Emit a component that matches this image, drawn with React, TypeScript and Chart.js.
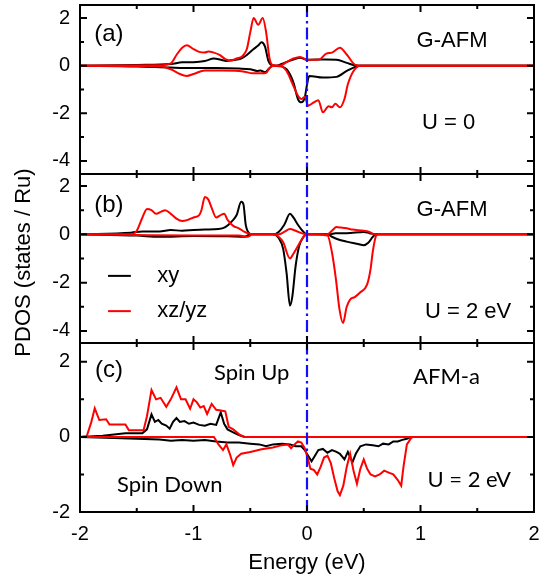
import React, { useEffect, useRef } from "react";
import { Chart, registerables } from "chart.js";

Chart.register(...registerables);

// ---------------- axis ticks ----------------
const energyTicks = [-2, -1, 0, 1, 2];
const energyMinorTicks = [-1.5, -0.5, 0.5, 1.5];
const pdosTicksAB = [-4, -2, 0, 2];
const pdosMinorAB = [-3, -1, 1];
const pdosTicksC = [-2, 0, 2];
const pdosMinorC = [-1, 1];

// ---------------- panel (a): G-AFM, U = 0 ----------------
const aXyUpE = [-2, -1.5, -1.2, -1.1, -1.0, -0.9, -0.82, -0.76, -0.71, -0.65, -0.58, -0.53, -0.47, -0.43, -0.4, -0.37, -0.34, -0.31, -0.27, -0.2, -0.12, -0.06, 0, 0.08, 0.17, 0.26, 0.35, 0.42, 0.47, 2];
const aXyUpV = [0, 0.03, 0.07, 0.14, 0.15, 0.2, 0.3, 0.25, 0.2, 0.24, 0.3, 0.45, 0.7, 0.85, 0.98, 0.8, 0.2, 0.02, 0, 0.12, 0.26, 0.33, 0.25, 0.26, 0.26, 0.25, 0.12, 0.02, 0, 0];
const aXyDnE = [-2, -1.5, -1.2, -1.0, -0.8, -0.6, -0.5, -0.44, -0.41, -0.37, -0.33, -0.3, -0.24, -0.18, -0.12, -0.08, -0.05, -0.02, 0, 0.02, 0.14, 0.26, 0.35, 0.41, 0.47, 2];
const aXyDnV = [0, -0.03, -0.08, -0.1, -0.1, -0.12, -0.15, -0.22, -0.2, -0.28, -0.1, 0, -0.02, -0.15, -0.7, -1.4, -1.54, -1.35, -0.8, -0.43, -0.5, -0.47, -0.22, -0.08, 0, 0];
const aXzUpE = [-2, -1.3, -1.2, -1.15, -1.1, -1.06, -1.0, -0.95, -0.9, -0.87, -0.82, -0.77, -0.72, -0.67, -0.62, -0.57, -0.53, -0.5, -0.47, -0.43, -0.39, -0.36, -0.33, -0.3, -0.24, -0.18, -0.12, -0.06, 0, 0.06, 0.11, 0.17, 0.22, 0.29, 0.35, 0.42, 0.47, 2];
const aXzUpV = [0, 0.02, 0.1, 0.45, 0.75, 0.86, 0.7, 0.58, 0.55, 0.6, 0.55, 0.45, 0.28, 0.22, 0.3, 0.4, 0.7, 1.4, 2.0, 1.72, 2.0, 1.4, 0.3, 0.02, 0, 0.15, 0.3, 0.37, 0.24, 0.25, 0.26, 0.51, 0.55, 0.75, 0.47, 0.05, 0, 0];
const aXzDnE = [-2, -1.3, -1.2, -1.12, -1.06, -1.0, -0.9, -0.75, -0.6, -0.55, -0.48, -0.4, -0.36, -0.33, -0.3, -0.24, -0.18, -0.12, -0.08, -0.05, -0.02, 0.01, 0.06, 0.1, 0.14, 0.19, 0.22, 0.25, 0.29, 0.33, 0.36, 0.41, 0.47, 2];
const aXzDnV = [0, -0.02, -0.15, -0.35, -0.43, -0.35, -0.2, -0.2, -0.22, -0.25, -0.32, -0.32, -0.3, -0.1, -0.01, 0, -0.22, -0.85, -1.26, -1.4, -1.3, -1.68, -1.54, -1.45, -1.96, -1.7, -1.75, -1.6, -1.75, -1.4, -0.78, -0.22, 0, 0];

// ---------------- panel (b): G-AFM, U = 2 eV ----------------
const bXyUpE = [-2, -1.55, -1.45, -1.3, -1.2, -1.1, -1.0, -0.9, -0.78, -0.72, -0.66, -0.62, -0.58, -0.56, -0.54, -0.51, -0.48, -0.3, -0.25, -0.2, -0.15, -0.12, -0.08, -0.04, 0, 0.2, 0.25, 0.35, 0.5, 0.55, 0.6, 2];
const bXyUpV = [0, 0.07, 0.12, 0.12, 0.18, 0.15, 0.18, 0.2, 0.22, 0.3, 0.55, 0.8, 1.35, 1.25, 0.4, 0.05, 0, 0, 0.1, 0.4, 0.85, 0.7, 0.4, 0.15, 0, 0, 0.05, 0.05, 0.1, 0.05, 0, 0];
const bXyDnE = [-2, -1.5, -1.3, -1.0, -0.7, -0.55, -0.5, -0.3, -0.25, -0.21, -0.18, -0.15, -0.13, -0.1, -0.07, -0.03, 0, 0.18, 0.22, 0.27, 0.35, 0.45, 0.5, 0.54, 0.58, 0.61, 2];
const bXyDnV = [0, -0.05, -0.1, -0.07, -0.08, -0.1, 0, 0, -0.15, -0.6, -1.6, -2.95, -2.6, -1.3, -0.5, -0.1, 0, 0, -0.1, -0.2, -0.3, -0.4, -0.45, -0.35, -0.1, 0, 0];
const bXzUpE = [-2, -1.55, -1.5, -1.45, -1.41, -1.37, -1.33, -1.28, -1.25, -1.2, -1.15, -1.1, -1.05, -1.0, -0.95, -0.93, -0.9, -0.87, -0.84, -0.8, -0.76, -0.73, -0.7, -0.65, -0.6, -0.55, -0.5, -0.45, -0.25, -0.2, -0.15, -0.1, -0.05, 0, 0.18, 0.22, 0.26, 0.3, 0.35, 0.4, 0.5, 0.55, 0.6, 2];
const bXzUpV = [0, 0, 0.15, 0.7, 1.05, 1.0, 0.85, 0.95, 1.0, 0.85, 0.65, 0.55, 0.6, 0.7, 0.8, 1.0, 1.55, 1.45, 1.1, 0.7, 0.8, 0.85, 0.6, 0.35, 0.25, 0.1, 0.02, 0, 0, 0.1, 0.22, 0.15, 0.05, 0, 0, 0.15, 0.3, 0.28, 0.25, 0.2, 0.15, 0.1, 0, 0];
const bXzDnE = [-2, -1.5, -1.0, -0.6, -0.52, -0.48, -0.3, -0.25, -0.21, -0.15, -0.12, -0.07, -0.03, 0, 0.18, 0.22, 0.255, 0.286, 0.317, 0.35, 0.38, 0.42, 0.47, 0.53, 0.56, 0.58, 0.61, 0.63, 2];
const bXzDnV = [0, -0.03, -0.05, -0.05, -0.1, 0, 0, -0.1, -0.33, -1.0, -0.8, -0.4, -0.1, 0, -0.05, -0.75, -1.86, -3.1, -3.67, -3.0, -2.7, -2.6, -2.4, -2.07, -1.44, -0.7, -0.05, 0, 0];

// ---------------- panel (c): AFM-a, U = 2 eV ----------------
const cXyUpE = [-2, -1.8, -1.6, -1.45, -1.41, -1.37, -1.34, -1.31, -1.28, -1.24, -1.21, -1.18, -1.15, -1.12, -1.08, -1.04, -1.0, -0.95, -0.9, -0.85, -0.8, -0.76, -0.73, -0.7, -0.65, -0.6, -0.55, 2];
const cXyUpV = [0, 0.03, 0.1, 0.1, 0.2, 0.6, 0.4, 0.45, 0.35, 0.3, 0.22, 0.4, 0.5, 0.4, 0.42, 0.35, 0.38, 0.32, 0.3, 0.35, 0.32, 0.65, 0.35, 0.2, 0.12, 0.05, 0, 0];
const cXyDnE = [-2, -1.7, -1.5, -1.3, -1.2, -1.1, -1.0, -0.9, -0.8, -0.7, -0.6, -0.5, -0.42, -0.36, -0.3, -0.22, -0.15, -0.1, -0.05, -0.02, 0.01, 0.04, 0.07, 0.1, 0.14, 0.18, 0.22, 0.26, 0.29, 0.33, 0.36, 0.4, 0.43, 0.47, 0.52, 0.58, 0.63, 0.67, 0.72, 0.76, 0.8, 0.84, 0.88, 0.92, 2];
const cXyDnV = [0, -0.03, -0.05, -0.07, -0.1, -0.08, -0.1, -0.08, -0.12, -0.15, -0.15, -0.18, -0.2, -0.25, -0.2, -0.18, -0.2, -0.25, -0.25, -0.35, -0.5, -0.65, -0.5, -0.35, -0.32, -0.42, -0.35, -0.4, -0.45, -0.6, -0.4, -0.68, -0.45, -0.25, -0.2, -0.22, -0.25, -0.18, -0.2, -0.12, -0.12, -0.08, -0.05, 0, 0];
const cXzUpE = [-2, -1.94, -1.9, -1.87, -1.83, -1.77, -1.74, -1.6, -1.57, -1.44, -1.41, -1.37, -1.33, -1.29, -1.24, -1.2, -1.15, -1.11, -1.07, -1.03, -1.0, -0.97, -0.94, -0.91, -0.88, -0.84, -0.8, -0.76, -0.72, -0.69, -0.65, -0.59, -0.55, 2];
const cXzUpV = [0, 0.02, 0.4, 0.76, 0.45, 0.47, 0.33, 0.33, 0.18, 0.18, 0.55, 1.25, 1.0, 1.04, 0.8, 1.0, 1.32, 1.0, 1.0, 0.75, 1.0, 0.92, 0.78, 0.82, 0.61, 0.88, 0.72, 0.7, 0.68, 0.27, 0.2, 0.05, 0, 0];
const cXzDnE = [-2, -0.82, -0.78, -0.74, -0.71, -0.68, -0.65, -0.62, -0.58, -0.5, -0.4, -0.3, -0.22, -0.17, -0.14, -0.11, -0.08, -0.05, -0.02, 0.01, 0.03, 0.06, 0.09, 0.12, 0.15, 0.18, 0.21, 0.24, 0.27, 0.29, 0.32, 0.35, 0.38, 0.41, 0.44, 0.47, 0.5, 0.53, 0.56, 0.6, 0.64, 0.68, 0.72, 0.76, 0.8, 0.83, 0.85, 0.88, 0.92, 0.95, 2];
const cXzDnV = [0, 0, -0.2, -0.35, -0.2, -0.45, -0.75, -0.55, -0.45, -0.4, -0.33, -0.28, -0.22, -0.2, -0.3, -0.2, -0.12, -0.15, -0.3, -0.6, -0.85, -0.88, -1.0, -0.8, -0.55, -0.5, -0.7, -1.1, -1.45, -1.55, -1.3, -0.8, -0.45, -0.9, -1.25, -0.85, -0.6, -0.85, -1.0, -1.05, -1.0, -0.9, -0.95, -1.0, -1.15, -1.3, -0.8, -0.2, -0.02, 0, 0];

const seriesNames = ["xy", "xz/yz"];

// ---------------- helpers ----------------
const ARIAL = "'Liberation Sans', Arial, Helvetica, sans-serif";
const CALI = "Lato, 'Open Sans', sans-serif";
const RED = "#ff0000";
const BLACK = "#000000";

const pts = (e: number[], v: number[]) => e.map((x, i) => ({ x, y: v[i] }));

function lineDs(label: string, e: number[], v: number[], color: string, yAxisID: string, smooth: boolean, order: number) {
  return {
    label,
    data: pts(e, v),
    borderColor: color,
    backgroundColor: color,
    borderWidth: 2,
    pointRadius: 0,
    fill: false,
    yAxisID,
    order,
    tension: smooth ? 0.35 : 0,
    cubicInterpolationMode: smooth ? "monotone" : "default",
  };
}

const panels = [
  { id: "ya", major: pdosTicksAB, minor: pdosMinorAB },
  { id: "yb", major: pdosTicksAB, minor: pdosMinorAB },
  { id: "yc", major: pdosTicksC, minor: pdosMinorC },
];

const annotations = [
  { t: "(a)", x: -1.745, y: 1.3, ax: "ya", f: `24px ${ARIAL}` },
  { t: "G-AFM", x: 1.278, y: 1.05, ax: "ya", f: `22px ${ARIAL}` },
  { t: "U = 0", x: 1.248, y: -2.4, ax: "ya", f: `22px ${ARIAL}` },
  { t: "(b)", x: -1.745, y: 1.22, ax: "yb", f: `24px ${ARIAL}` },
  { t: "G-AFM", x: 1.278, y: 1.01, ax: "yb", f: `22px ${ARIAL}` },
  { t: "U = 2 eV", x: 1.42, y: -3.2, ax: "yb", f: `22px ${ARIAL}` },
  { t: "(c)", x: -1.745, y: 1.78, ax: "yc", f: `24px ${ARIAL}` },
  { t: "Spin Up", x: -0.487, y: 1.71, ax: "yc", f: `22px ${CALI}` },
  { t: "AFM-a", x: 1.229, y: 1.6, ax: "yc", f: `22px ${CALI}` },
  { t: "Spin Down", x: -1.209, y: -1.28, ax: "yc", f: `22px ${CALI}` },
  { t: "U = 2 eV", x: 1.429, y: -1.15, ax: "yc", f: `22px ${CALI}` },
];

const framePlugin = {
  id: "pdosFrames",
  afterDatasetsDraw(chart: any) {
    const { ctx, chartArea, scales } = chart;
    const xs = scales.x;
    const L = chartArea.left;
    const R = chartArea.right;
    ctx.save();

    // Fermi level (dash-dot)
    const x0 = xs.getPixelForValue(0);
    ctx.strokeStyle = "#1010ff";
    ctx.lineWidth = 2.2;
    ctx.setLineDash([12, 4, 2.5, 4]);
    ctx.beginPath();
    ctx.moveTo(x0, chartArea.top);
    ctx.lineTo(x0, chartArea.bottom);
    ctx.stroke();
    ctx.setLineDash([]);

    // frames and inward ticks
    ctx.strokeStyle = "#000";
    ctx.lineWidth = 2;
    for (const p of panels) {
      const ys = scales[p.id];
      ctx.strokeRect(L, ys.top, R - L, ys.bottom - ys.top);
      ctx.beginPath();
      const yt = (v: number, len: number) => {
        const py = ys.getPixelForValue(v);
        ctx.moveTo(L, py); ctx.lineTo(L + len, py);
        ctx.moveTo(R, py); ctx.lineTo(R - len, py);
      };
      p.major.forEach((v) => yt(v, 7));
      p.minor.forEach((v) => yt(v, 4));
      const xt = (v: number, len: number) => {
        const px = xs.getPixelForValue(v);
        ctx.moveTo(px, ys.top); ctx.lineTo(px, ys.top + len);
        ctx.moveTo(px, ys.bottom); ctx.lineTo(px, ys.bottom - len);
      };
      energyTicks.forEach((v) => xt(v, 7));
      energyMinorTicks.forEach((v) => xt(v, 4));
      ctx.stroke();
    }

    // annotations
    ctx.fillStyle = "#000";
    ctx.textBaseline = "middle";
    ctx.textAlign = "center";
    for (const a of annotations) {
      ctx.font = a.f;
      ctx.fillText(a.t, xs.getPixelForValue(a.x), scales[a.ax].getPixelForValue(a.y));
    }

    // legend in panel (b)
    const yb = scales.yb;
    const legend = [
      { name: seriesNames[0], color: BLACK, y: -1.72 },
      { name: seriesNames[1], color: RED, y: -3.18 },
    ];
    ctx.font = `22px ${ARIAL}`;
    ctx.textAlign = "left";
    ctx.lineWidth = 2;
    for (const l of legend) {
      const py = yb.getPixelForValue(l.y);
      ctx.strokeStyle = l.color;
      ctx.beginPath();
      ctx.moveTo(xs.getPixelForValue(-1.753), py);
      ctx.lineTo(xs.getPixelForValue(-1.552), py);
      ctx.stroke();
      ctx.fillStyle = "#000";
      ctx.fillText(l.name, xs.getPixelForValue(-1.32), py);
    }

    // axis titles
    ctx.textAlign = "center";
    ctx.font = `22px ${ARIAL}`;
    ctx.fillText("Energy (eV)", xs.getPixelForValue(0), chartArea.bottom + 51);
    ctx.translate(24, (chartArea.top + chartArea.bottom) / 2 + 4);
    ctx.rotate(-Math.PI / 2);
    ctx.fillText("PDOS (states / Ru)", 0, 0);
    ctx.restore();
  },
};

function yScale(min: number, max: number, ticks: number[]) {
  return {
    type: "linear",
    position: "left",
    stack: "pdos",
    stackWeight: 1,
    min,
    max,
    afterBuildTicks: (s: any) => {
      s.ticks = ticks.map((v) => ({ value: v }));
    },
    afterFit: (s: any) => {
      s.width = 80;
      s.paddingTop = 0;
      s.paddingBottom = 0;
    },
    grid: { display: false, drawTicks: false },
    border: { display: false },
    ticks: {
      color: "#000",
      padding: 10,
      font: { family: ARIAL, size: 20 },
      callback: (v: any) => String(v),
    },
  };
}

export default function App() {
  const ref = useRef<HTMLCanvasElement | null>(null);

  useEffect(() => {
    if (!ref.current) return;
    const datasets = [
      lineDs("a xz/yz up", aXzUpE, aXzUpV, RED, "ya", true, 0),
      lineDs("a xz/yz down", aXzDnE, aXzDnV, RED, "ya", true, 0),
      lineDs("a xy up", aXyUpE, aXyUpV, BLACK, "ya", true, 1),
      lineDs("a xy down", aXyDnE, aXyDnV, BLACK, "ya", true, 1),
      lineDs("b xz/yz up", bXzUpE, bXzUpV, RED, "yb", true, 0),
      lineDs("b xz/yz down", bXzDnE, bXzDnV, RED, "yb", true, 0),
      lineDs("b xy up", bXyUpE, bXyUpV, BLACK, "yb", true, 1),
      lineDs("b xy down", bXyDnE, bXyDnV, BLACK, "yb", true, 1),
      lineDs("c xz/yz up", cXzUpE, cXzUpV, RED, "yc", false, 0),
      lineDs("c xz/yz down", cXzDnE, cXzDnV, RED, "yc", false, 0),
      lineDs("c xy up", cXyUpE, cXyUpV, BLACK, "yc", false, 1),
      lineDs("c xy down", cXyDnE, cXyDnV, BLACK, "yc", false, 1),
    ];
    const chart = new Chart(ref.current, {
      type: "line",
      data: { datasets } as any,
      options: {
        responsive: false,
        animation: false,
        devicePixelRatio: 1,
        layout: { padding: { top: 5, right: 15, bottom: 0, left: 0 } },
        plugins: { legend: { display: false }, tooltip: { enabled: false } },
        scales: {
          x: {
            type: "linear",
            position: "bottom",
            min: -2,
            max: 2,
            afterBuildTicks: (s: any) => {
              s.ticks = energyTicks.map((v) => ({ value: v }));
            },
            afterFit: (s: any) => {
              s.height = 66;
              s.paddingLeft = 0;
              s.paddingRight = 0;
            },
            grid: { display: false, drawTicks: false },
            border: { display: false },
            ticks: {
              color: "#000",
              padding: 10,
              maxRotation: 0,
              autoSkip: false,
              font: { family: ARIAL, size: 20 },
              callback: (v: any) => String(v),
            },
          },
          yc: yScale(-2, 2.5, pdosTicksC),
          yb: yScale(-4.5, 2.5, pdosTicksAB),
          ya: yScale(-4.55, 2.55, pdosTicksAB),
        } as any,
      },
      plugins: [framePlugin],
    } as any);
    return () => chart.destroy();
  }, []);

  return (
    <div style={{ position: "absolute", left: 0, top: 0, width: 549, height: 578, background: "#fff" }}>
      <canvas ref={ref} width={549} height={578} style={{ width: 549, height: 578, display: "block" }} />
    </div>
  );
}
